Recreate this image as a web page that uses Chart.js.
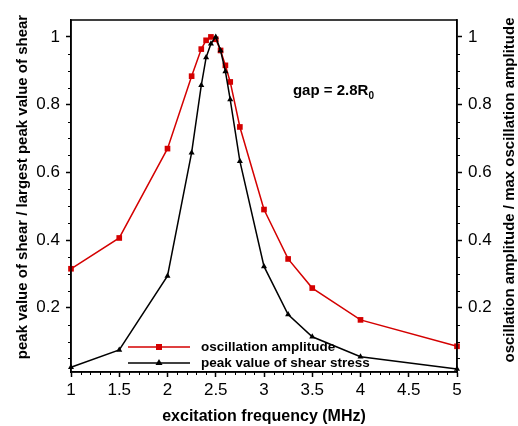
<!DOCTYPE html>
<html lang="en">
<head>
<meta charset="UTF-8">
<title>Oscillation amplitude and peak shear vs excitation frequency</title>
<script src="https://cdn.jsdelivr.net/npm/chart.js"></script>
<style>
body {
margin: 0;
background: #fff;
}
.wrap {
width: 518px;
height: 426px;
position: relative;
}
</style>
</head>
<body>
<div class="wrap"><canvas id="chart"></canvas></div>
<script>
// values (both curves normalised to their max)
const freq = [1, 1.5, 2, 2.25, 2.35, 2.4, 2.45, 2.5, 2.55, 2.6, 2.65, 2.75, 3, 3.25, 3.5, 4, 5];
const amplitude = [0.315, 0.406, 0.67, 0.884, 0.964, 0.99, 1.0, 0.993, 0.96, 0.916, 0.867, 0.734, 0.49, 0.344, 0.258, 0.164, 0.086];
const shearStress = [0.024, 0.075, 0.294, 0.658, 0.857, 0.939, 0.98, 1.0, 0.96, 0.898, 0.815, 0.633, 0.322, 0.18, 0.114, 0.055, 0.019];
const seriesNames = ['oscillation amplitude', 'peak value of shear stress'];
const xTicks = [1, 1.5, 2, 2.5, 3, 3.5, 4, 4.5, 5];
const yTicks = [0.2, 0.4, 0.6, 0.8, 1];

const RED = '#d40000';
const FONT = "'Liberation Sans', Arial, sans-serif";
Chart.defaults.font.family = FONT;
Chart.defaults.color = '#000';

const fixedTicks = vals => scale => {
scale.ticks = vals.map(v => ({ value: v }));
};

const points = ys => freq.map((x, i) => ({ x: x, y: ys[i] }));

// box round the plot + minor ticks
const framePlugin = {
id: 'frame',
afterDraw(chart) {
const ctx = chart.ctx;
const a = chart.chartArea;
const xs = chart.scales.x;
const ys = chart.scales.y;
ctx.save();
ctx.strokeStyle = '#000';
ctx.lineWidth = 1.5;
ctx.strokeRect(a.left, a.top, a.right - a.left, a.bottom - a.top);
ctx.lineWidth = 1;
ctx.beginPath();
for (let i = 11; i < 50; i++) {
if (i % 5 === 0) continue;
const px = Math.round(xs.getPixelForValue(i / 10)) + 0.5;
ctx.moveTo(px, a.bottom);
ctx.lineTo(px, a.bottom + 3);
}
for (let i = 1; i < 21; i++) {
if (i % 4 === 0) continue;
const py = Math.round(ys.getPixelForValue(i * 0.05)) + 0.5;
ctx.moveTo(a.left, py);
ctx.lineTo(a.left - 3, py);
ctx.moveTo(a.right, py);
ctx.lineTo(a.right + 3, py);
}
ctx.stroke();
ctx.restore();
}
};

// vertical titles, legend and the gap note
const textPlugin = {
id: 'texts',
afterDraw(chart) {
const ctx = chart.ctx;
const a = chart.chartArea;
const xs = chart.scales.x;
const ys = chart.scales.y;
ctx.save();
ctx.fillStyle = '#000';
ctx.textAlign = 'center';
ctx.textBaseline = 'middle';
ctx.font = 'bold 15px ' + FONT;

ctx.save();
ctx.translate(23, 187);
ctx.rotate(-Math.PI / 2);
ctx.fillText('peak value of shear / largest peak value of shear', 0, 0);
ctx.restore();

ctx.save();
ctx.translate(510, 190);
ctx.rotate(-Math.PI / 2);
ctx.fillText('oscillation amplitude / max oscillation amplitude', 0, 0);
ctx.restore();

// gap = 2.8R0
ctx.textAlign = 'left';
const gx = xs.getPixelForValue(3.3);
const gy = ys.getPixelForValue(0.84);
const main = 'gap = 2.8R';
ctx.fillText(main, gx, gy);
const w = ctx.measureText(main).width;
ctx.font = 'bold 10px ' + FONT;
ctx.fillText('0', gx + w, gy + 5);

// legend
const rows = [
{ name: seriesNames[0], color: RED, shape: 'rect', y: 347 },
{ name: seriesNames[1], color: '#000', shape: 'tri', y: 363 }
];
const x0 = a.left + 57;
const x1 = a.left + 119;
const mx = (x0 + x1) / 2;
ctx.font = 'bold 13.5px ' + FONT;
rows.forEach(r => {
ctx.strokeStyle = r.color;
ctx.fillStyle = r.color;
ctx.lineWidth = 1.5;
ctx.beginPath();
ctx.moveTo(x0, r.y);
ctx.lineTo(x1, r.y);
ctx.stroke();
ctx.beginPath();
if (r.shape === 'rect') {
ctx.rect(mx - 3, r.y - 3, 6, 6);
} else {
ctx.moveTo(mx, r.y - 4);
ctx.lineTo(mx + 3.5, r.y + 2);
ctx.lineTo(mx - 3.5, r.y + 2);
ctx.closePath();
}
ctx.fill();
ctx.fillStyle = '#000';
ctx.fillText(r.name, x1 + 11, r.y);
});
ctx.restore();
}
};

const yScale = (pos, width) => ({
type: 'linear',
position: pos,
min: 0.01,
max: 1.05,
afterBuildTicks: fixedTicks(yTicks),
afterFit: s => { s.width = width; },
grid: { drawOnChartArea: false, tickLength: 5, tickColor: '#000', tickWidth: 1.5 },
border: { color: '#000', width: 1.5 },
ticks: {
font: { size: 17 },
padding: 6,
callback: v => String(v)
}
});

new Chart(document.getElementById('chart'), {
type: 'line',
data: {
datasets: [
{
label: seriesNames[0],
data: points(amplitude),
yAxisID: 'y2',
borderColor: RED,
backgroundColor: RED,
borderWidth: 1.5,
pointStyle: 'rect',
pointRadius: 4,
pointBorderWidth: 0,
clip: false,
order: 1
},
{
label: seriesNames[1],
data: points(shearStress),
yAxisID: 'y',
borderColor: '#000',
backgroundColor: '#000',
borderWidth: 1.5,
pointStyle: 'triangle',
pointRadius: 3.5,
pointBorderWidth: 0,
clip: false,
order: 0
}
]
},
options: {
responsive: true,
maintainAspectRatio: false,
animation: false,
layout: { padding: { top: 20, left: 0, right: 0, bottom: 0 } },
plugins: {
legend: { display: false },
tooltip: { enabled: false }
},
scales: {
x: {
type: 'linear',
min: 1,
max: 5,
afterBuildTicks: fixedTicks(xTicks),
afterFit: s => { s.height = 54; },
grid: { drawOnChartArea: false, tickLength: 5, tickColor: '#000', tickWidth: 1.5 },
border: { color: '#000', width: 1.5 },
ticks: {
font: { size: 17 },
padding: 3,
maxRotation: 0,
autoSkip: false,
callback: v => String(v)
},
title: {
display: true,
text: 'excitation frequency (MHz)',
font: { size: 16, weight: 'bold' },
padding: { top: 0, bottom: 0 }
}
},
y: yScale('left', 71),
y2: yScale('right', 61)
}
},
plugins: [framePlugin, textPlugin]
});
</script>
</body>
</html>
